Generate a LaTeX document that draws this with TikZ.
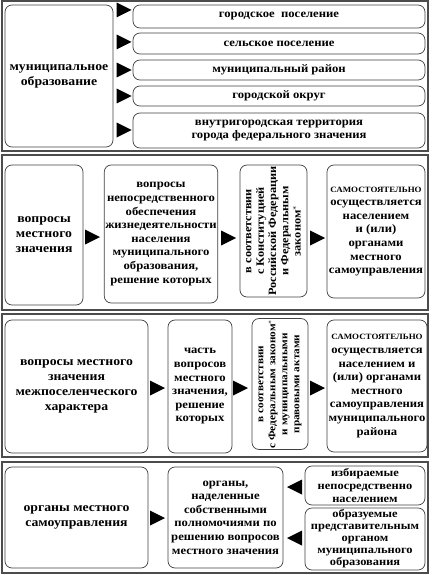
\documentclass[tikz,border=0pt]{standalone}
\usepackage{fontspec}
\setmainfont{Liberation Serif}[FakeStretch=1.1]
\begin{document}
\begin{tikzpicture}[x=1pt,y=-1pt,
  sec/.style={draw=black!70, line width=1.4pt, inner sep=0pt},
  box/.style={draw=black!75, line width=0.7pt, rounded corners=7pt, align=center, inner sep=1pt,
    font=\bfseries\fontsize{11.5}{13.6}\selectfont},
  title/.style={box, font=\bfseries\fontsize{12.5}{15}\selectfont},
  vbox/.style={box, rotate=90, font=\bfseries\fontsize{11.2}{12.3}\selectfont},
  small/.style={font=\bfseries\fontsize{11.3}{#1}\selectfont},
  rtri/.pic={\fill[black] (-7.5,-7.5) -- (7.5,0) -- (-7.5,7.5) -- cycle;},
  ltri/.pic={\fill[black] (7.5,-7.5) -- (-7.5,0) -- (7.5,7.5) -- cycle;}
]
\useasboundingbox (0,0) rectangle (431,575);
\newcommand\caps[1]{{\fontsize{8.1}{13.6}\selectfont #1}}
% ---------- section 1
\node[sec, minimum width=426, minimum height=150] (S1) at (215,76) {};
\node[title, minimum width=108, minimum height=142] (m) at (59,76) {муниципальное\\образование};
\node[box, minimum width=292, minimum height=23] (r1) at (279,16.5) {городское\ \ поселение};
\node[box, minimum width=292, minimum height=21] (r2) at (279,43.5) {сельское поселение};
\node[box, minimum width=292, minimum height=20] (r3) at (279,70) {муниципальный район};
\node[box, minimum width=292, minimum height=20] (r4) at (279,96) {городской округ};
\node[box, minimum width=292, minimum height=35] (r5) at (279,130.5) {внутригородская территория\\города федерального значения};
\pic at (124,10) {rtri};
\pic at (124,42) {rtri};
\pic at (124,70) {rtri};
\pic at (124,96) {rtri};
\pic at (124,130) {rtri};
% ---------- section 2
\node[sec, minimum width=426, minimum height=155] (S2) at (215,232.5) {};
\node[title, minimum width=78, minimum height=140] (a2) at (44,235) {вопросы\\местного\\значения};
\node[box, minimum width=112, minimum height=138] (b2) at (161,234) {вопросы\\непосредственного\\обеспечения\\жизнедеятельности\\населения\\муниципального\\образования,\\решение которых};
\node[vbox, minimum width=132, minimum height=67] (c2) at (273.5,231) {в соответствии\\с Конституцией\\Российской Федерации\\и Федеральным\\законом$^{*}$};
\node[box, minimum width=98, minimum height=133] (d2) at (376,231.5) {\caps{САМОСТОЯТЕЛЬНО}\\осуществляется\\населением\\и (или)\\органами\\местного\\самоуправления};
\pic at (92.5,237) {rtri};
\pic at (228.5,238) {rtri};
\pic at (317.5,238) {rtri};
% ---------- section 3
\node[sec, minimum width=426, minimum height=143] (S3) at (215,385.5) {};
\node[title, minimum width=143, minimum height=133] (a3) at (76.5,386.5) {вопросы местного\\значения\\межпоселенческого\\характера};
\node[box, minimum width=64, minimum height=133] (b3) at (200,386.5) {часть\\вопросов\\местного\\значения,\\решение\\которых};
\node[vbox, minimum width=128, minimum height=56, font=\bfseries\fontsize{10.2}{12}\selectfont] (c3) at (280,384) {в соответствии\\с Федеральным законом$^{*}$\\и муниципальными\\правовыми актами};
\node[box, minimum width=100, minimum height=132] (d3) at (377,386) {\caps{САМОСТОЯТЕЛЬНО}\\осуществляется\\населением и\\(или) органами\\местного\\самоуправления\\муниципального\\района};
\pic at (157.5,388) {rtri};
\pic at (240.5,388) {rtri};
\pic at (317.5,388) {rtri};
% ---------- section 4
\node[sec, minimum width=426, minimum height=111] (S4) at (215,517.5) {};
\node[title, minimum width=143, minimum height=101] (a4) at (76.5,517.5) {органы местного\\самоуправления};
\node[box, minimum width=115, minimum height=101] (b4) at (225.5,517.5) {органы,\\наделенные\\собственными\\полномочиями по\\решению вопросов\\местного значения};
\node[box, minimum width=120, minimum height=39, small=13] (e1) at (365,485.5) {избираемые\\непосредственно\\населением};
\node[box, minimum width=120, minimum height=62, small=12] (e2) at (365,539) {образуемые\\представительным\\органом\\муниципального\\образования};
\pic at (157.5,518) {rtri};
\pic at (294.5,487) {ltri};
\pic at (294.5,538) {ltri};
\end{tikzpicture}
\end{document}
